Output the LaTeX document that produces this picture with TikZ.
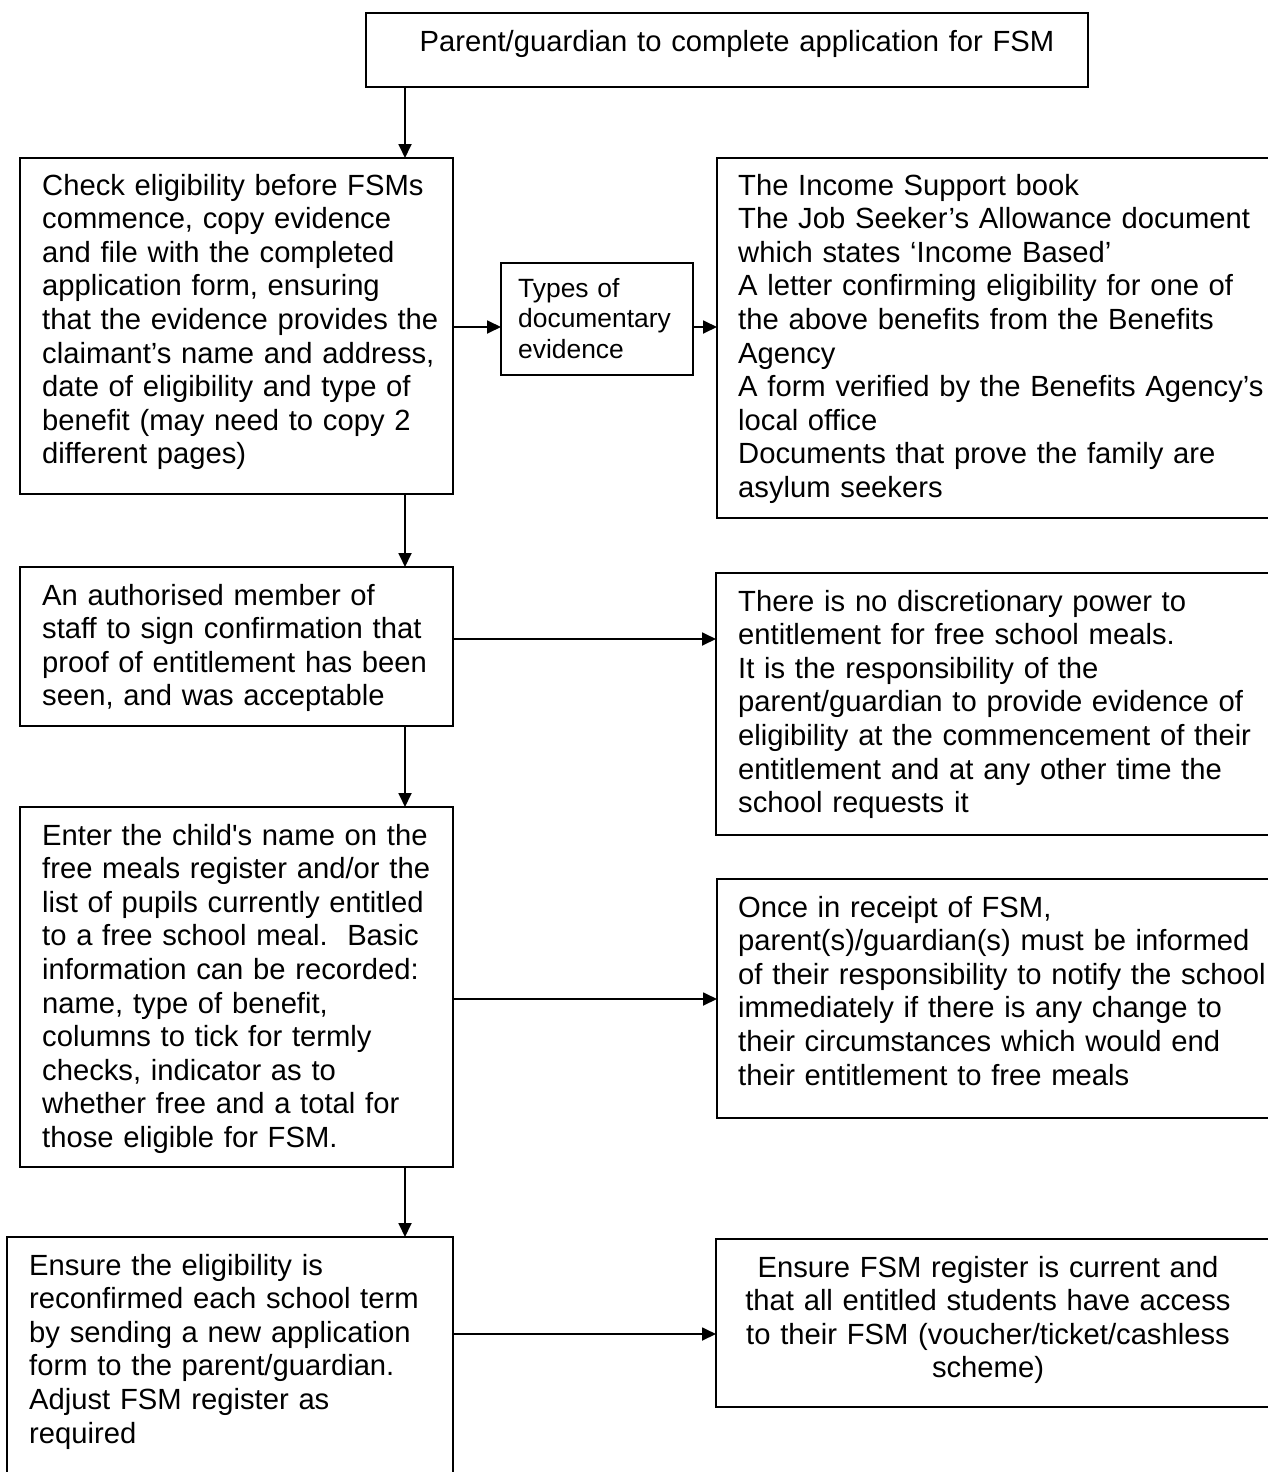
\documentclass[tikz,border=0pt]{standalone}
\usepackage{fontspec}
\newfontfamily\arial{Liberation Sans}
\usetikzlibrary{arrows.meta}
\frenchspacing
\begin{document}
\begin{tikzpicture}[x=1pt,y=-1pt,
  box/.style={draw=black, line width=1.8pt, rectangle, inner sep=0pt, outer sep=0pt, anchor=north west},
  body/.style={inner sep=0pt, anchor=base west, align=left, text width=#1,
    font=\arial\fontsize{29.2}{33.6}\selectfont},
  cbody/.style={inner sep=0pt, anchor=base, align=center, text width=#1,
    font=\arial\fontsize{29.2}{33.6}\selectfont},
  small/.style={inner sep=0pt, anchor=base west, align=left, text width=#1,
    font=\arial\fontsize{26.4}{30.6}\selectfont},
  link/.style={line width=1.8pt, -{Triangle[length=14pt,width=13pt]}},
]
\useasboundingbox (0,0) rectangle (1268,1472);
\fill[white] (0,0) rectangle (1268,1472);
\clip (0,0) rectangle (1268,1472);

% frames
\node[box, minimum width=722, minimum height=74]  (b1) at (366,13) {};
\node[box, minimum width=433, minimum height=336] (b2) at (20,158) {};
\node[box, minimum width=192, minimum height=112] (types) at (501,263) {};
\node[box, minimum width=573, minimum height=360] (r1) at (717,158) {};
\node[box, minimum width=433, minimum height=159] (b3) at (20,567) {};
\node[box, minimum width=574, minimum height=262] (r2) at (716,573) {};
\node[box, minimum width=433, minimum height=360] (b4) at (20,807) {};
\node[box, minimum width=573, minimum height=239] (r3) at (717,879) {};
\node[box, minimum width=446, minimum height=263] (b5) at (7,1237) {};
\node[box, minimum width=574, minimum height=168] (r4) at (716,1239) {};

% texts
\node[cbody=700] (t1) at (737,52) {Parent/guardian to complete application for FSM};
\node[body=420] (t2) at (42,195) {Check eligibility before FSMs\\
commence, copy evidence\\
and file with the completed\\
application form, ensuring\\
that the evidence provides the\\
claimant’s name and address,\\
date of eligibility and type of\\
benefit (may need to copy 2\\
different pages)};
\node[small=170] (ttypes) at (518,297) {Types of\\documentary\\evidence};
\node[body=540] (tr1) at (738,195) {The Income Support book\\
The Job Seeker’s Allowance document\\
which states ‘Income Based’\\
A letter confirming eligibility for one of\\
the above benefits from the Benefits\\
Agency\\
A form verified by the Benefits Agency’s\\
local office\\
Documents that prove the family are\\
asylum seekers};
\node[body=420] (t3) at (42,605) {An authorised member of\\
staff to sign confirmation that\\
proof of entitlement has been\\
seen, and was acceptable};
\node[body=540] (tr2) at (738,611) {There is no discretionary power to\\
entitlement for free school meals.\\
It is the responsibility of the\\
parent/guardian to provide evidence of\\
eligibility at the commencement of their\\
entitlement and at any other time the\\
school requests it};
\node[body=420] (t4) at (42,845) {Enter the child's name on the\\
free meals register and/or the\\
list of pupils currently entitled\\
to a free school meal.~~Basic\\
information can be recorded:\\
name, type of benefit,\\
columns to tick for termly\\
checks, indicator as to\\
whether free and a total for\\
those eligible for FSM.};
\node[body=540] (tr3) at (738,917) {Once in receipt of FSM,\\
parent(s)/guardian(s) must be informed\\
of their responsibility to notify the school\\
immediately if there is any change to\\
their circumstances which would end\\
their entitlement to free meals};
\node[body=420] (t5) at (29,1275) {Ensure the eligibility is\\
reconfirmed each school term\\
by sending a new application\\
form to the parent/guardian.\\
Adjust FSM register as\\
required};
\node[cbody=540] (tr4) at (988,1277) {Ensure FSM register is current and\\
that all entitled students have access\\
to their FSM (voucher/ticket/cashless\\
scheme)};

% connector guides
\coordinate (spine) at (405,0);
\coordinate (ya) at (0,327);
\coordinate (yb) at (0,639);
\coordinate (yc) at (0,999);
\coordinate (yd) at (0,1334);

% connectors
\draw[link] (b1.south -| spine) -- (b2.north -| spine);
\draw[link] (b2.south -| spine) -- (b3.north -| spine);
\draw[link] (b3.south -| spine) -- (b4.north -| spine);
\draw[link] (b4.south -| spine) -- (b5.north -| spine);
\draw[link] (b2.east |- ya) -- (types.west |- ya);
\draw[link] (types.east |- ya) -- (r1.west |- ya);
\draw[link] (b3.east |- yb) -- (r2.west |- yb);
\draw[link] (b4.east |- yc) -- (r3.west |- yc);
\draw[link] (b5.east |- yd) -- (r4.west |- yd);
\end{tikzpicture}
\end{document}
